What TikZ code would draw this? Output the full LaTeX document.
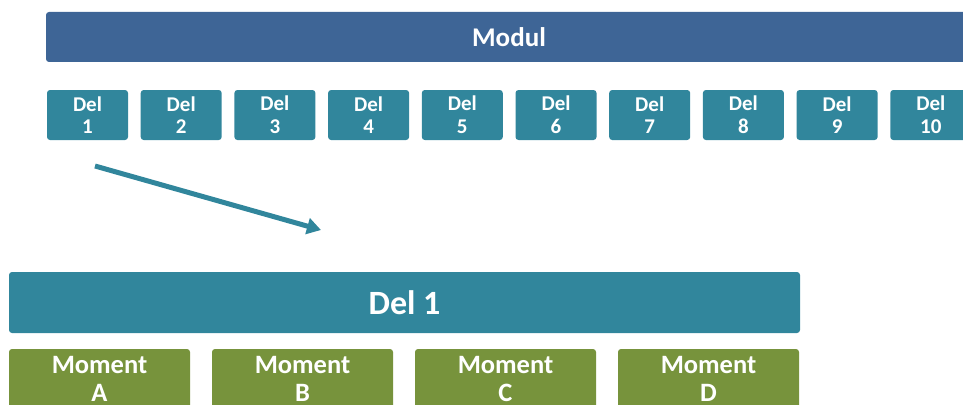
\documentclass[tikz,border=0pt]{standalone}
\usepackage{fontspec}
\setmainfont{Carlito}
\usetikzlibrary{arrows.meta}
\definecolor{modulblue}{HTML}{3E6596}
\definecolor{delteal}{HTML}{31869C}
\definecolor{momgreen}{HTML}{77933C}
\tikzset{
  box/.style={rounded corners=3pt, inner sep=0pt, text=white, align=center, font=\bfseries},
  modulbox/.style={box, fill=modulblue, minimum width=926pt, minimum height=50pt, font=\bfseries\fontsize{27}{29}\selectfont},
  delbox/.style={box, fill=delteal, minimum width=81pt, minimum height=50pt, font=\bfseries\fontsize{21}{22.7}\selectfont},
  bigdel/.style={box, fill=delteal, minimum width=791pt, minimum height=61pt, font=\bfseries\fontsize{34}{36}\selectfont},
  momentbox/.style={box, fill=momgreen, minimum width=181pt, minimum height=60pt, font=\bfseries\fontsize{26.5}{28.5}\selectfont},
  bigarrow/.style={draw=delteal, line width=5pt, -{Triangle[length=14pt,width=16pt]}}
}
\begin{document}
\begin{tikzpicture}[x=1pt,y=-1pt]
\clip (0,0) rectangle (963,404);
\useasboundingbox (0,0) rectangle (963,404);
\node[modulbox] (modul) at (509,37) {Modul};
\foreach \i in {1,...,10}{
  \node[delbox] (del\i) at ({87.5+93.7*(\i-1)},115) {Del\\\i};
}
\node[bigdel] (delone) at (404.5,302.5) {Del 1};
\node[momentbox] (momA) at (99.5,379) {Moment\\A};
\node[momentbox] (momB) at (302.5,379) {Moment\\B};
\node[momentbox] (momC) at (505.5,379) {Moment\\C};
\node[momentbox] (momD) at (708.5,379) {Moment\\D};
\coordinate (arrS) at (95,166);
\coordinate (arrE) at (321,230);
\draw[bigarrow] (arrS) -- (arrE);
\end{tikzpicture}
\end{document}
